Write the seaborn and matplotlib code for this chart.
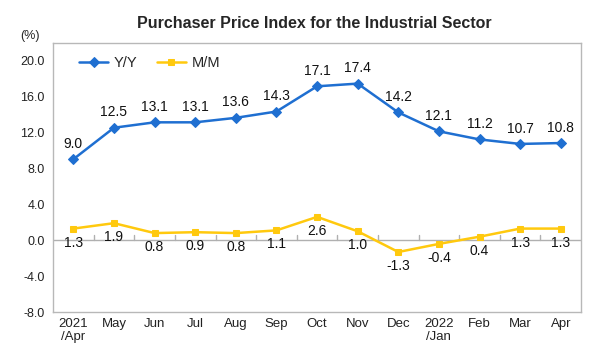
import seaborn as sns
import matplotlib.pyplot as plt
import pandas as pd

# Data
months = ['2021\n/Apr', 'May', 'Jun', 'Jul', 'Aug', 'Sep', 'Oct', 'Nov', 'Dec',
          '2022\n/Jan', 'Feb', 'Mar', 'Apr']
yoy = [9.0, 12.5, 13.1, 13.1, 13.6, 14.3, 17.1, 17.4, 14.2, 12.1, 11.2, 10.7, 10.8]
mom = [1.3, 1.9, 0.8, 0.9, 0.8, 1.1, 2.6, 1.0, -1.3, -0.4, 0.4, 1.3, 1.3]

blue = '#1f6fd1'
gold = '#ffc90e'

sns.set_theme(style='white')
plt.rcParams['font.family'] = ['Liberation Sans', 'DejaVu Sans']

df = pd.DataFrame({'x': range(len(months)), 'yoy': yoy, 'mom': mom})

fig, ax = plt.subplots(figsize=(5.96, 3.59), dpi=100)
fig.subplots_adjust(left=0.089, right=0.975, top=0.88, bottom=0.13)

sns.lineplot(data=df, x='x', y='yoy', ax=ax, color=blue, marker='D', markersize=5,
             markeredgecolor=blue, linewidth=1.8, label='Y/Y')
sns.lineplot(data=df, x='x', y='mom', ax=ax, color=gold, marker='s', markersize=5,
             markeredgecolor=gold, linewidth=1.8, label='M/M')

# value labels
for i, v in enumerate(yoy):
    ax.annotate(f'{v:.1f}', (i, v), xytext=(0, 6), textcoords='offset points',
                ha='center', va='bottom', fontsize=10, color='#111111')
for i, v in enumerate(mom):
    ax.annotate(f'{v:.1f}', (i, v), xytext=(0, -5), textcoords='offset points',
                ha='center', va='top', fontsize=10, color='#111111')

# zero line with small tick marks between categories
ax.axhline(0, color='#b0b0b0', linewidth=1, zorder=0)
for b in range(1, len(months)):
    ax.plot([b - 0.5, b - 0.5], [0, 0.6], color='#b0b0b0', linewidth=1, zorder=0)

ax.set_xlim(-0.5, len(months) - 0.5)
ax.set_ylim(-8, 21.9)
ax.set_yticks(range(-8, 21, 4))
ax.set_yticklabels([f'{t:.1f}' for t in range(-8, 21, 4)], fontsize=9)
ax.set_xticks(range(len(months)))
ax.set_xticklabels(months, fontsize=9.5, linespacing=1.1)
ax.tick_params(axis='y', length=4, color='#b0b0b0', pad=2, colors='#222222')
ax.tick_params(axis='x', length=0, pad=4, colors='#222222')
ax.set_xlabel('')
ax.set_ylabel('')

for s in ax.spines.values():
    s.set_color('#b8b8b8')
    s.set_linewidth(1)

ax.legend(loc='upper left', ncol=2, frameon=False, fontsize=10.5,
          handlelength=2.0, handletextpad=0.4, columnspacing=1.3,
          borderaxespad=0.3, bbox_to_anchor=(0.03, 0.99))

fig.text(0.528, 0.935, 'Purchaser Price Index for the Industrial Sector',
         ha='center', va='center', fontsize=11.5, fontweight='bold')
fig.text(0.05, 0.9, '(%)', ha='center', va='center', fontsize=9)

fig.savefig('out.png', dpi=100)
